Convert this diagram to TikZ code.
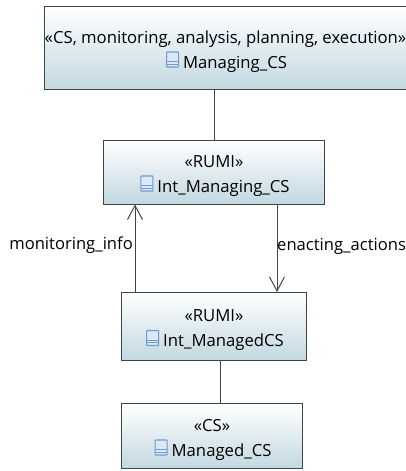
\documentclass[tikz,border=0pt]{standalone}
\usepackage{fontspec}
\setmainfont{Open Sans}
\usetikzlibrary{arrows.meta}
\definecolor{boxline}{HTML}{404648}
\definecolor{boxfill}{HTML}{C3D8E1}
\definecolor{iconline}{HTML}{6F9BD0}
\definecolor{iconfill}{HTML}{DCE8F4}
\newcommand{\classicon}{\hspace{2pt}\tikz[baseline=-1.5pt, x=1pt, y=1pt]{
    \draw[iconline, fill=iconfill, rounded corners=0.7pt, line width=1.1pt] (0,0) rectangle (12,15);
    \draw[iconline, line width=1pt] (0,5.4) -- (12,5.4) (0,2.7) -- (12,2.7);
  }\hspace{4pt}}
\newcommand{\twolines}[2]{\rule{0pt}{20pt}#1\\ \classicon #2}
\tikzset{
  csbox/.style={draw=boxline, line width=1pt, rectangle, top color=white, bottom color=boxfill,
    align=center, font=\fontsize{16.7}{25}\selectfont, text=black, inner sep=0pt, anchor=north west},
  flowlabel/.style={font=\fontsize{16.6}{18}\selectfont, inner sep=0pt, text=black},
  link/.style={draw=boxline, line width=1pt},
  flow/.style={link, -{Straight Barb[length=14pt, width=15pt, line width=1pt]}}
}
\begin{document}
\begin{tikzpicture}[x=1pt, y=-1pt]
    \useasboundingbox (0,0) rectangle (406,471);
    \node[csbox, minimum width=362pt, minimum height=83pt] (managing) at (44,6)
      {\twolines{«CS, monitoring, analysis, planning, execution»}{Managing\_CS}};
    \node[csbox, minimum width=221pt, minimum height=64pt] (intmanaging) at (103,139.5)
      {\twolines{«RUMI»}{Int\_Managing\_CS}};
    \node[csbox, minimum width=185pt, minimum height=68pt] (intmanaged) at (121,292)
      {\twolines{«RUMI»}{Int\_ManagedCS}};
    \node[csbox, minimum width=181pt, minimum height=65pt] (managed) at (121,403)
      {\twolines{«CS»}{Managed\_CS}};
    \node[flowlabel, anchor=east] (monitoring) at (133,245) {monitoring\_info};
    \node[flowlabel, anchor=west] (enacting) at (277,246) {enacting\_actions};
    \coordinate (upper) at (214,0);
    \coordinate (lower) at (220,0);
    \coordinate (up) at (135,0);
    \coordinate (down) at (277,0);
    \draw[link] (managing.south -| upper) -- (intmanaging.north -| upper);
    \draw[link] (intmanaged.south -| lower) -- (managed.north -| lower);
    \draw[flow] (intmanaged.north -| up) -- (intmanaging.south -| up);
    \draw[flow] (intmanaging.south -| down) -- (intmanaged.north -| down);
  \end{tikzpicture}
\end{document}
